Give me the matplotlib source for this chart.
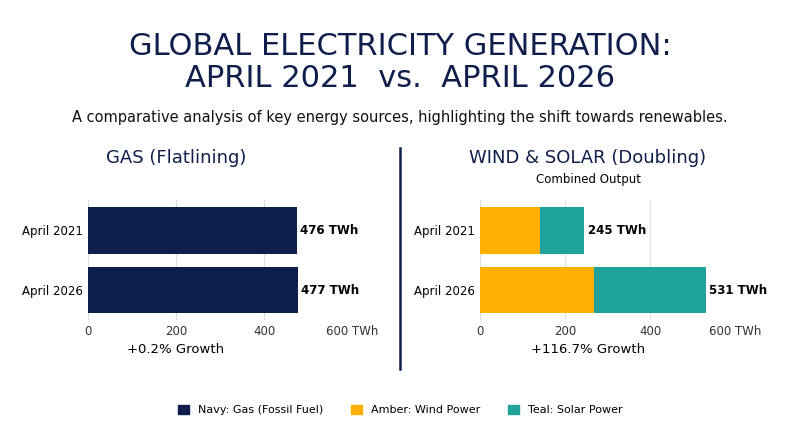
import matplotlib.pyplot as plt
from matplotlib.patches import Patch
from matplotlib.lines import Line2D

periods = ["April 2021", "April 2026"]
gas = [476, 477]
wind = [140, 268]
solar = [105, 263]
ticks = [0, 200, 400, 600]
tick_labels = ["0", "200", "400", "600 TWh"]

navy = "#0f1f4b"
amber = "#ffb000"
teal = "#1fa39b"

fig = plt.figure(figsize=(8, 4.47), dpi=100)
fig.patch.set_facecolor("white")

fig.text(0.5, 0.895, "GLOBAL ELECTRICITY GENERATION:", ha="center", va="center",
         fontsize=22, color=navy)
fig.text(0.5, 0.825, "APRIL 2021  vs.  APRIL 2026", ha="center", va="center",
         fontsize=22, color=navy)
fig.text(0.5, 0.737, "A comparative analysis of key energy sources, highlighting the shift towards renewables.",
         ha="center", va="center", fontsize=10.5, color="#111111")


def style(ax):
    ax.set_xlim(0, 600)
    ax.set_ylim(1.5, -0.5)
    ax.set_xticks(ticks)
    ax.set_xticklabels(tick_labels, fontsize=8.5, color="#333333")
    ax.set_yticks([0, 1])
    ax.set_yticklabels(periods, fontsize=8.5)
    ax.tick_params(length=0)
    for s in ax.spines.values():
        s.set_visible(False)
    ax.grid(axis="x", color="#dddddd", lw=0.8)
    ax.set_axisbelow(True)


# left panel: gas
ax1 = fig.add_axes([0.11, 0.284, 0.33, 0.268])
style(ax1)
ax1.barh([0, 1], gas, height=0.78, color=navy)
for i, v in enumerate(gas):
    ax1.text(v + 6, i, f"{v} TWh", va="center", fontsize=8.5, fontweight="bold")
fig.text(0.22, 0.635, "GAS (Flatlining)", ha="center", fontsize=13, color=navy)
fig.text(0.22, 0.21, "+0.2% Growth", ha="center", fontsize=9.5)

# right panel: wind & solar
ax2 = fig.add_axes([0.60, 0.284, 0.319, 0.268])
style(ax2)
ax2.barh([0, 1], wind, height=0.78, color=amber)
ax2.barh([0, 1], solar, left=wind, height=0.78, color=teal)
for i in range(2):
    tot = wind[i] + solar[i]
    ax2.text(tot + 8, i, f"{tot} TWh", va="center", fontsize=8.5, fontweight="bold")
fig.text(0.735, 0.635, "WIND & SOLAR (Doubling)", ha="center", fontsize=13, color=navy)
fig.text(0.735, 0.59, "Combined Output", ha="center", fontsize=8.5)
fig.text(0.735, 0.21, "+116.7% Growth", ha="center", fontsize=9.5)

# divider
fig.add_artist(Line2D([0.5, 0.5], [0.175, 0.67], color=navy, lw=1.8))

handles = [Patch(color=navy, label="Navy: Gas (Fossil Fuel)"),
           Patch(color=amber, label="Amber: Wind Power"),
           Patch(color=teal, label="Teal: Solar Power")]
fig.legend(handles=handles, loc="center", bbox_to_anchor=(0.5, 0.083), ncol=3,
           frameon=False, fontsize=8, handlelength=1.0, handleheight=1.0, columnspacing=2.5)

fig.savefig("out.png", dpi=100)
